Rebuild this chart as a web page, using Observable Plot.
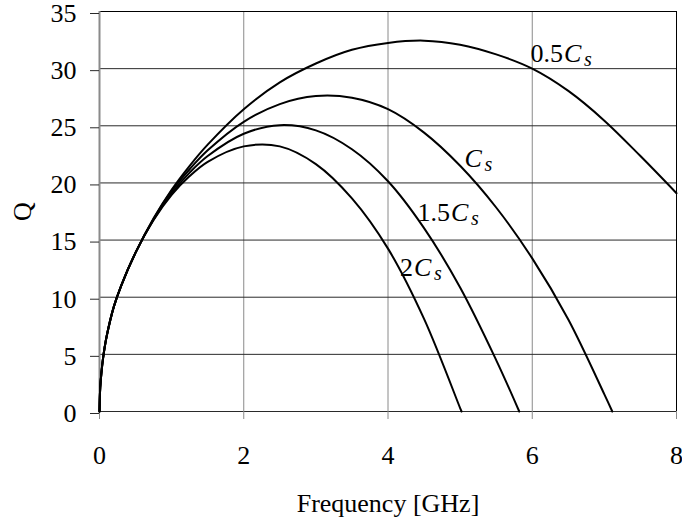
<!DOCTYPE html>
<html>
<head>
<meta charset="utf-8">
<script src="https://cdn.jsdelivr.net/npm/d3@7"></script>
<script src="https://cdn.jsdelivr.net/npm/@observablehq/plot@0.6"></script>
<style>
  html, body { margin: 0; padding: 0; background: #fff; }
  svg text { font-family: "Liberation Serif", "Times New Roman", serif; }
</style>
</head>
<body>
<div id="chart"></div>
<script>
// Quality factor Q versus frequency for four values of the shunt capacitance.
const seriesNames = ["0.5Cs", "Cs", "1.5Cs", "2Cs"];

const freqHalfCs = [0, 0.01, 0.025, 0.05, 0.1, 0.2, 0.3, 0.5, 0.75, 1.0, 1.25, 1.5, 2.0, 2.5, 3.0, 3.5, 4.0, 4.5, 5.0, 5.5, 6.0, 6.5, 7.0, 7.5, 8.0];
const qHalfCs    = [0, 2.1, 3.3, 4.7, 6.6, 9.2, 11.0, 13.9, 16.9, 19.4, 21.5, 23.35, 26.45, 28.8, 30.45, 31.65, 32.25, 32.45, 32.1, 31.25, 30.0, 28.05, 25.45, 22.35, 19.1];

const freqCs = [0, 0.01, 0.025, 0.05, 0.1, 0.2, 0.3, 0.5, 0.75, 1.0, 1.25, 1.5, 2.0, 2.5, 3.0, 3.5, 4.0, 4.5, 5.0, 5.5, 6.0, 6.5, 7.0, 7.11];
const qCs    = [0, 2.1, 3.3, 4.7, 6.6, 9.2, 11.0, 13.9, 16.85, 19.3, 21.2, 22.85, 25.35, 26.9, 27.6, 27.45, 26.45, 24.4, 21.5, 17.85, 13.4, 8.05, 1.5, 0];

const freq15Cs = [0, 0.01, 0.025, 0.05, 0.1, 0.2, 0.3, 0.5, 0.75, 1.0, 1.25, 1.5, 2.0, 2.5, 3.0, 3.5, 4.0, 4.5, 5.0, 5.5, 5.82];
const q15Cs    = [0, 2.1, 3.3, 4.7, 6.6, 9.2, 11.0, 13.9, 16.8, 19.1, 20.9, 22.35, 24.3, 25.05, 24.6, 22.95, 20.15, 16.05, 10.85, 4.5, 0];

const freq2Cs = [0, 0.01, 0.025, 0.05, 0.1, 0.2, 0.3, 0.5, 0.75, 1.0, 1.25, 1.5, 2.0, 2.5, 3.0, 3.5, 4.0, 4.5, 5.0, 5.02];
const q2Cs    = [0, 2.1, 3.3, 4.7, 6.6, 9.2, 11.0, 13.9, 16.75, 18.95, 20.6, 21.85, 23.2, 23.2, 21.65, 18.65, 14.25, 8.1, 0.3, 0];

// Curve annotations: coefficient, and where the "C" of each label sits (data units)
const labelCoef = ["0.5", "", "1.5", "2"];
const labelFreq = [6.44, 5.06, 4.875, 4.36];
const labelQ    = [30.55, 21.38, 16.67, 11.87];

const xTicks = [0, 2, 4, 6, 8];
const yTicks = [0, 5, 10, 15, 20, 25, 30, 35];

const rows = [];
[[freqHalfCs, qHalfCs], [freqCs, qCs], [freq15Cs, q15Cs], [freq2Cs, q2Cs]].forEach(([fs, qs], k) => {
  fs.forEach((f, i) => rows.push({series: seriesNames[k], f, q: qs[i]}));
});

const labels = labelCoef.map((coef, i) => ({coef, f: labelFreq[i], q: labelQ[i]}));

const chart = Plot.plot({
  width: 682,
  height: 525,
  marginLeft: 99,
  marginRight: 6,
  marginTop: 11,
  marginBottom: 114,
  style: {fontFamily: "'Liberation Serif', 'Times New Roman', serif", fontSize: "26px", background: "#fff", color: "#000"},
  x: {domain: [0, 8]},
  y: {domain: [0, 35]},
  marks: [
    Plot.gridX(xTicks.slice(1, -1), {stroke: "#8a8a8a", strokeOpacity: 1}),
    Plot.gridY(yTicks.slice(1, -1), {stroke: "#2a2a2a", strokeOpacity: 1}),
    Plot.ruleY([35], {stroke: "#000"}),
    Plot.ruleY([0], {stroke: "#2a2a2a"}),
    Plot.ruleX([8], {stroke: "#000"}),
    Plot.ruleX([0], {stroke: "#8a8a8a", strokeWidth: 2}),
    Plot.axisY(yTicks, {
      tickSize: 9, tickPadding: 14, stroke: "#2a2a2a", dy: 2,
      label: "Q", labelAnchor: "center", labelArrow: "none", labelOffset: 87
    }),
    Plot.axisX(xTicks, {
      tickSize: 8, tickPadding: 26, stroke: "#8a8a8a",
      label: "Frequency [GHz]", labelAnchor: "center", labelArrow: "none", labelOffset: 100
    }),
    Plot.line(rows, {x: "f", y: "q", z: "series", curve: "catmull-rom", stroke: "#000", strokeWidth: 2}),
    Plot.text(labels, {x: "f", y: "q", text: "coef", textAnchor: "end", lineAnchor: "bottom", dx: -1}),
    Plot.text(labels, {x: "f", y: "q", text: () => "C", textAnchor: "start", lineAnchor: "bottom", fontStyle: "italic"}),
    Plot.text(labels, {x: "f", y: "q", text: () => "s", textAnchor: "start", lineAnchor: "bottom", fontStyle: "italic", fontSize: 20, dx: 20, dy: 4})
  ]
});

document.getElementById("chart").appendChild(chart);
</script>
</body>
</html>
